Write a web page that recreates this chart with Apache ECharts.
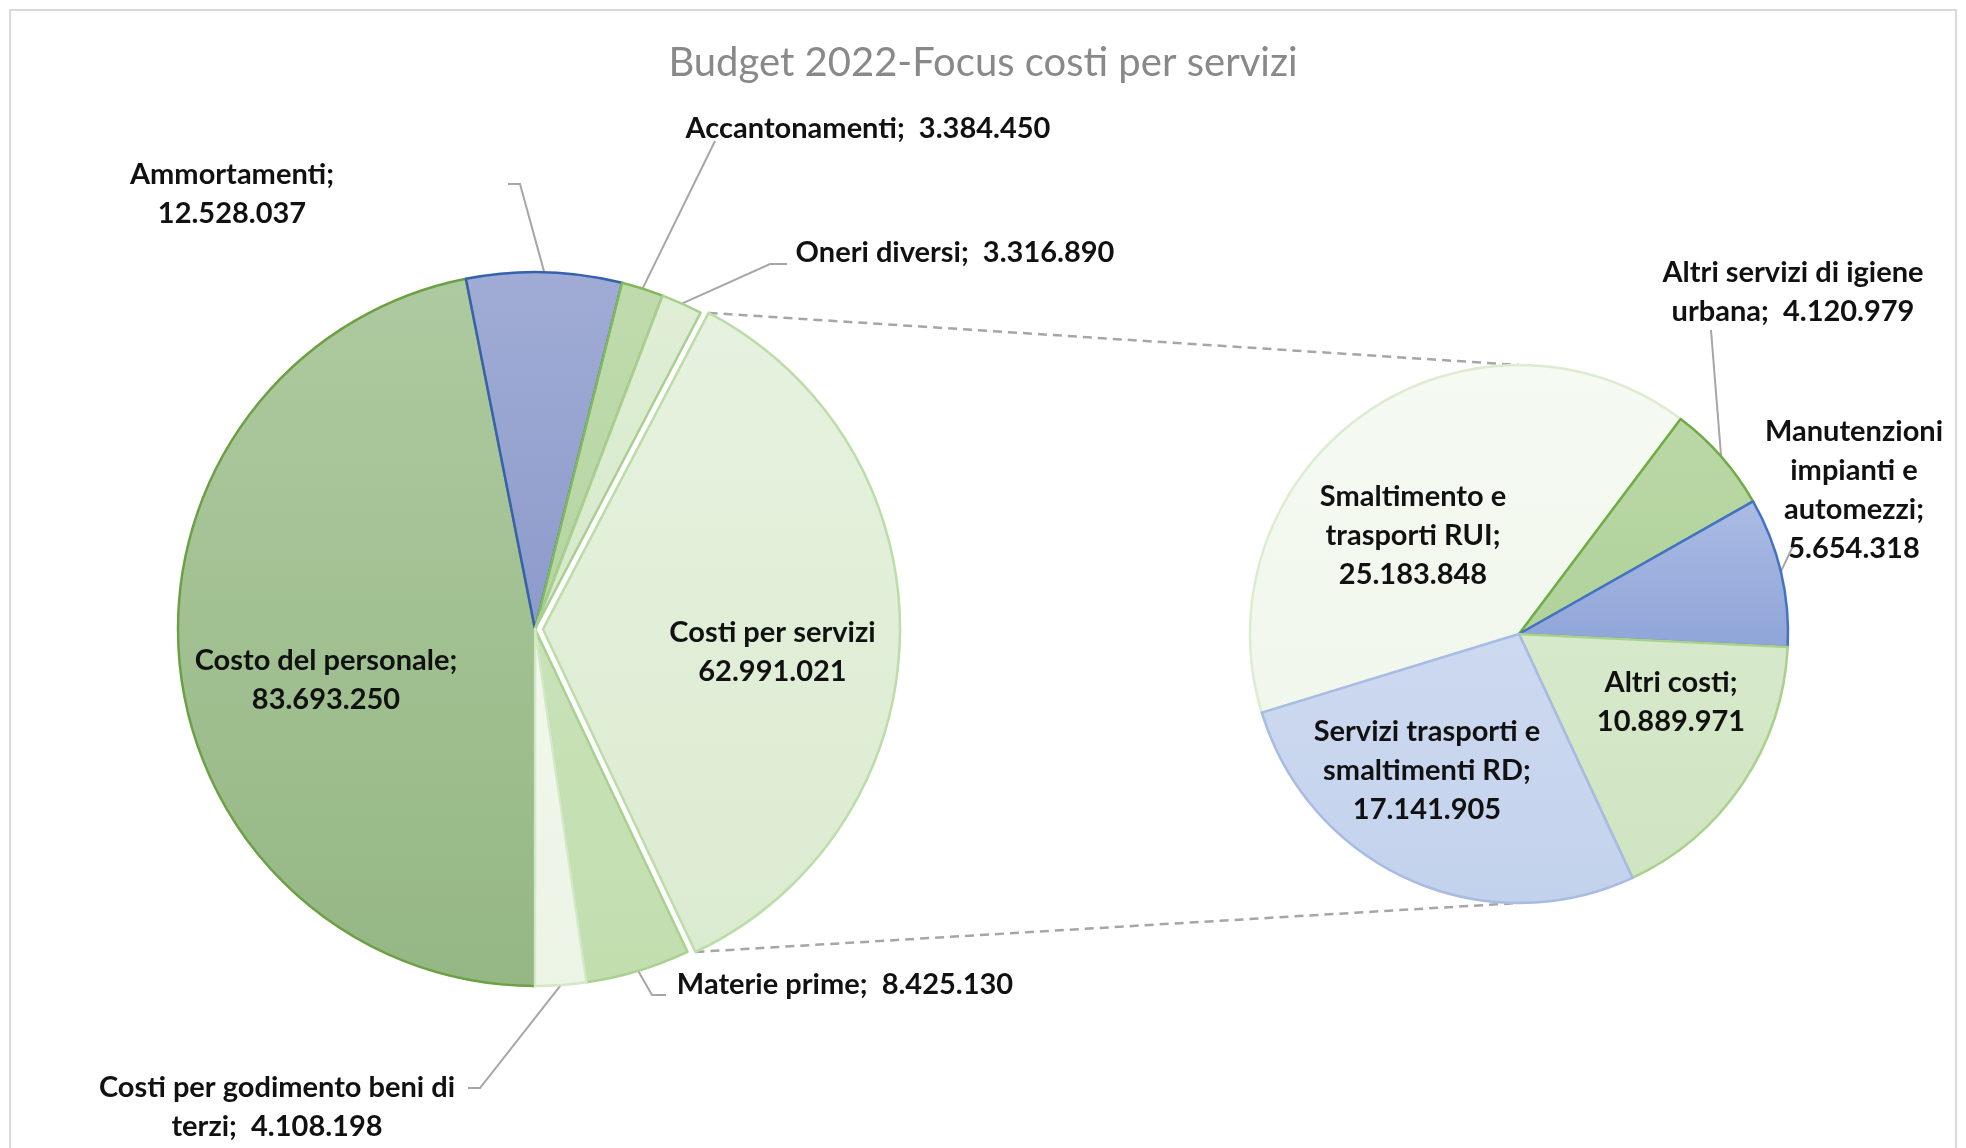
<!DOCTYPE html>
<html>
<head>
<meta charset="utf-8">
<script src="https://cdn.jsdelivr.net/npm/echarts@6/dist/echarts.min.js"></script>
<style>html,body{margin:0;padding:0;background:#fff;}#c{width:1966px;height:1148px;}</style>
</head>
<body>
<div id="c"></div>
<script>
// ---- data ----
const leftNames = ['Costo del personale','Ammortamenti','Accantonamenti','Oneri diversi','Costi per servizi','Materie prime','Costi per godimento beni di terzi'];
const leftValues = [83693250, 12528037, 3384450, 3316890, 62991021, 8425130, 4108198];
const leftLabelText = ['Costo del personale;\n{v}','Ammortamenti;\n{v}','Accantonamenti;  {v}','Oneri diversi;  {v}','Costi per servizi\n{v}','Materie prime;  {v}','Costi per godimento beni di\nterzi;  {v}'];

const rightNames = ['Smaltimento e trasporti RUI','Altri servizi di igiene urbana','Manutenzioni impianti e automezzi','Altri costi','Servizi trasporti e smaltimenti RD'];
const rightValues = [25183848, 4120979, 5654318, 10889971, 17141905];
const rightLabelText = ['Smaltimento e\ntrasporti RUI;\n{v}','Altri servizi di igiene\nurbana;  {v}','Manutenzioni\nimpianti e\nautomezzi;\n{v}','Altri costi;\n{v}','Servizi trasporti e\nsmaltimenti RD;\n{v}'];

const titleText = 'Budget 2022-Focus costi per servizi';

// ---- styles / layout ----
function grad(a, b){ return {type:'linear',x:0,y:0,x2:0,y2:1,colorStops:[{offset:0,color:a},{offset:1,color:b}]}; }
const leftStyles = [
  {fill: grad('#aecaa0','#95b784'), border:'#6ca044'},
  {fill: grad('#a0acd5','#8d9bcb'), border:'#3561ad'},
  {fill: grad('#bfdbad','#b6d5a3'), border:'#7fb95a'},
  {fill: grad('#dfeed5','#d6e9ca'), border:'#a8cf8f'},
  {fill: grad('#e6f2df','#dbebd0'), border:'#bcdca8'},
  {fill: grad('#c9e2b8','#c2deaf'), border:'#a9d18e'},
  {fill: grad('#f1f7ec','#ecf4e6'), border:'#d3e8c6'}
];
const rightStyles = [
  {fill: grad('#f5faf2','#f1f7ed'), border:'#dcecd1'},
  {fill: grad('#bad8a6','#b0d29b'), border:'#6fac45'},
  {fill: grad('#abbbe4','#8fa5d8'), border:'#4472c4'},
  {fill: grad('#d7e9cb','#cfe4c1'), border:'#a9d18e'},
  {fill: grad('#cdd9f0','#c3d2ec'), border:'#a7bbe3'}
];
const L = {cx:535, cy:629, r:357};
const R = {cx:1519, cy:634, r:269};
const explodeIdx = 4, explode = 8;

// label positions (text centre) and optional leader line bend points;
// 'shiftX' = horizontal nudge from the default inside position (exploded slice), 'padTop' = lower by one half line
const leftLabelPos = [
  {x:326,y:680},
  {x:232,y:194, line:[[520,184],[508,184]]},
  {x:868,y:129, line:[[715,141]]},
  {x:955,y:253, line:[[770,264],[787,264]]},
  {shiftX:48, lowerHalfLine:true},
  {x:845,y:985, line:[[652,995],[666,995]]},
  {x:277,y:1107, line:[[480,1088],[468,1088]]}
];
const rightLabelPos = [
  {x:1413,y:536},
  {x:1793,y:292, line:[[1711,330]]},
  {x:1854,y:490, line:[[1793,546]]},
  {x:1671,y:702},
  {x:1427,y:771}
];

function fmt(v){ return String(v).replace(/\B(?=(\d{3})+(?!\d))/g,'.'); }
const FONT = 'Lato, "Open Sans", sans-serif';

function makeData(names, values, styles, texts, posArr, explodeIndex){
  return names.map((n,i)=>{
    let txt = texts[i].replace('{v}', fmt(values[i]));
    const cfg = posArr[i];
    if (cfg.lowerHalfLine) txt = ' \n' + txt;
    const lab = {
      position: cfg.line ? 'outside' : 'inside',
      formatter: txt
    };
    if (cfg.shiftX){
      lab.padding = [0, Math.max(0,-2*cfg.shiftX), 0, Math.max(0,2*cfg.shiftX)];
    }
    return {
      name:n, value:values[i],
      selected: i===explodeIndex,
      itemStyle:{color:styles[i].fill, borderColor:styles[i].border, borderWidth:2.5},
      select:{itemStyle:{color:styles[i].fill, borderColor:styles[i].border, borderWidth:2.5}},
      label: lab,
      labelLine:{show: !!cfg.line}
    };
  });
}

function layoutFn(posArr){
  return function(p){
    const cfg = posArr[p.dataIndex];
    if (cfg.x === undefined) return {};
    const out = {x:cfg.x, y:cfg.y, align:'center', verticalAlign:'middle', hideOverlap:false};
    if (cfg.line && p.labelLinePoints){
      out.labelLinePoints = [p.labelLinePoints[0]].concat(cfg.line);
    }
    return out;
  };
}

// geometry for connector lines (derived from data)
const total = leftValues.reduce((a,b)=>a+b,0);
let before = 0; for (let i=0;i<explodeIdx;i++) before += leftValues[i];
const aStart = 180 + 360*before/total;
const aEnd = aStart + 360*leftValues[explodeIdx]/total;
const aMid = (aStart+aEnd)/2;
function pt(c, r, deg, off){
  const rad = deg*Math.PI/180;
  const mr = (aMid)*Math.PI/180;
  return [c.cx + r*Math.sin(rad) + off*Math.sin(mr), c.cy - r*Math.cos(rad) - off*Math.cos(mr)];
}
const p1 = pt(L, L.r, aStart, explode);
const p2 = pt(L, L.r, aEnd, explode);
const q1 = [R.cx, R.cy - R.r];
const q2 = [R.cx, R.cy + R.r];

const chart = echarts.init(document.getElementById('c'));
const labelStyle = {fontFamily:FONT, fontWeight:'bold', fontSize:29, lineHeight:39, color:'#111'};
chart.setOption({
  backgroundColor:'#fff',
  animation:false,
  title:{text:titleText, left:'center', top:38, textStyle:{fontFamily:FONT, fontWeight:'normal', fontSize:40, color:'#898989'}},
  graphic:[
    {type:'rect', z:-5, shape:{x:10,y:10,width:1946,height:1200}, style:{fill:'none', stroke:'#d9d9d9', lineWidth:2}},
    {type:'line', z:1, shape:{x1:p1[0],y1:p1[1],x2:q1[0],y2:q1[1]}, style:{stroke:'#a6a6a6', lineWidth:2.5, lineDash:[9,6]}},
    {type:'line', z:1, shape:{x1:p2[0],y1:p2[1],x2:q2[0],y2:q2[1]}, style:{stroke:'#a6a6a6', lineWidth:2.5, lineDash:[9,6]}}
  ],
  series:[
    {
      type:'pie', center:[L.cx, L.cy], radius:L.r, startAngle:-90, clockwise:true,
      selectedMode:'multiple', selectedOffset:explode, avoidLabelOverlap:false,
      emphasis:{disabled:true},
      label:Object.assign({show:true}, labelStyle),
      labelLine:{lineStyle:{color:'#a6a6a6', width:2}, length:10, length2:10},
      labelLayout: layoutFn(leftLabelPos),
      data: makeData(leftNames, leftValues, leftStyles, leftLabelText, leftLabelPos, explodeIdx)
    },
    {
      type:'pie', center:[R.cx, R.cy], radius:R.r, startAngle:197, clockwise:true,
      selectedMode:false, avoidLabelOverlap:false,
      emphasis:{disabled:true},
      label:Object.assign({show:true}, labelStyle),
      labelLine:{lineStyle:{color:'#a6a6a6', width:2}, length:10, length2:10},
      labelLayout: layoutFn(rightLabelPos),
      data: makeData(rightNames, rightValues, rightStyles, rightLabelText, rightLabelPos, -1)
    }
  ]
});
</script>
</body>
</html>
